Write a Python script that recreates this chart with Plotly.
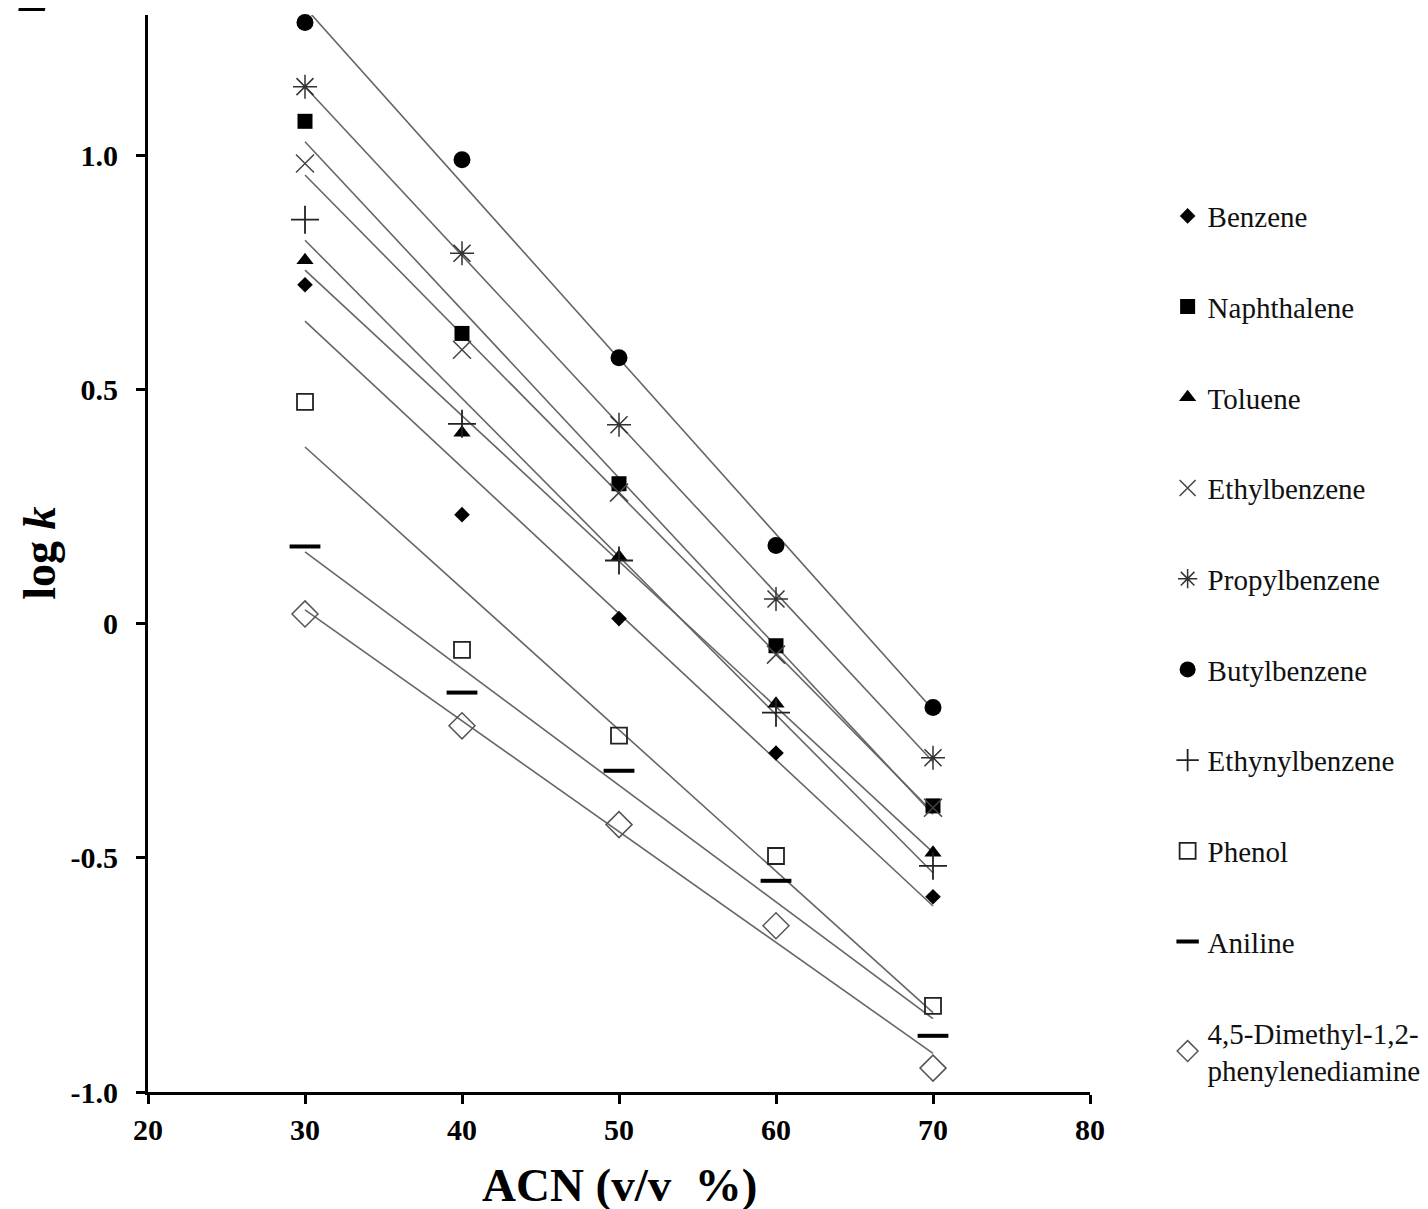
import numpy as np
import plotly.graph_objects as go

acn = [30, 40, 50, 60, 70]

names = ["Benzene", "Naphthalene", "Toluene", "Ethylbenzene", "Propylbenzene",
         "Butylbenzene", "Ethynylbenzene", "Phenol", "Aniline",
         "4,5-Dimethyl-1,2-<br>phenylenediamine"]

benzene = [0.724, 0.233, 0.011, -0.276, -0.583]
naphthalene = [1.073, 0.620, 0.299, -0.047, -0.389]
toluene = [0.776, 0.408, 0.143, -0.171, -0.489]
ethylbenzene = [0.983, 0.585, 0.280, -0.066, -0.393]
propylbenzene = [1.147, 0.791, 0.425, 0.053, -0.286]
butylbenzene = [1.284, 0.991, 0.568, 0.167, -0.179]
ethynylbenzene = [0.863, 0.427, 0.135, -0.190, -0.517]
phenol = [0.474, -0.056, -0.239, -0.496, -0.816]
aniline = [0.165, -0.147, -0.314, -0.549, -0.880]
dimethylpd = [0.021, -0.218, -0.429, -0.645, -0.949]

series = [benzene, naphthalene, toluene, ethylbenzene, propylbenzene,
          butylbenzene, ethynylbenzene, phenol, aniline, dimethylpd]

x_ticks = [20, 30, 40, 50, 60, 70, 80]
y_ticks = [-1.0, -0.5, 0, 0.5, 1.0]
y_ticktext = ["-1.0", "-0.5", "0", "0.5", "1.0"]

x_title = "<b>ACN (v/v  %)</b>"
y_title = "<b>log <i>k</i></b>"
panel_label = "<b><i>2</i></b>"

styles = [
    dict(symbol="diamond", size=12, color="black", line=dict(width=0)),
    dict(symbol="square", size=15, color="black", line=dict(width=0)),
    dict(symbol="triangle-up", size=15, color="black", line=dict(width=0)),
    dict(symbol="x-thin-open", size=18, color="#444", line=dict(width=1.5, color="#444")),
    dict(symbol="asterisk-open", size=20, color="#333", line=dict(width=1.5, color="#333")),
    dict(symbol="circle", size=17, color="black", line=dict(width=0)),
    dict(symbol="cross-thin-open", size=20, color="#222", line=dict(width=1.8, color="#222")),
    dict(symbol="square-open", size=16, color="#222", line=dict(width=1.8, color="#222")),
    dict(symbol="line-ew-open", size=22, color="black", line=dict(width=4, color="black")),
    dict(symbol="diamond-open", size=20, color="#555", line=dict(width=1.5, color="#555")),
]

fig = go.Figure()
xa = np.array(acn, dtype=float)
for i, (name, ys, st) in enumerate(zip(names, series, styles)):
    slope, intercept = np.polyfit(xa, np.array(ys), 1)
    xl = np.array([xa.min(), xa.max()])
    fig.add_trace(go.Scatter(x=xl, y=slope * xl + intercept, mode="lines",
                             line=dict(color="#666", width=1.6),
                             showlegend=False, hoverinfo="skip", cliponaxis=True))
for i, (name, ys, st) in enumerate(zip(names, series, styles)):
    fig.add_trace(go.Scatter(x=acn, y=ys, mode="markers", name=name,
                             legendgroup=f"g{i}", marker=st, cliponaxis=False))

serif = "Liberation Serif, Times New Roman, serif"
fig.update_layout(
    width=1412, height=1201,
    paper_bgcolor="white", plot_bgcolor="white",
    margin=dict(l=140, r=330, t=7, b=117, autoexpand=False),
    showlegend=True,
    legend=dict(x=1.0824, y=0.837, xanchor="left", yanchor="top",
                font=dict(family=serif, size=29, color="#111"),
                traceorder="grouped", tracegroupgap=50,
                itemsizing="trace", itemwidth=30,
                bgcolor="rgba(0,0,0,0)"),
    xaxis=dict(range=[20, 80], tickvals=x_ticks, showline=True, linecolor="black",
               linewidth=3, ticks="outside", ticklen=9, tickwidth=2.5, tickcolor="black",
               showgrid=False, zeroline=False, automargin=False,
               tickfont=dict(family=serif, size=30, color="black", weight="bold")),
    yaxis=dict(range=[-1.0, 1.3], tickvals=y_ticks, ticktext=y_ticktext, showline=True,
               linecolor="black", linewidth=3, ticks="outside", ticklen=9, tickwidth=2.5,
               tickcolor="black", showgrid=False, zeroline=False, automargin=False,
               ticklabelstandoff=12,
               tickfont=dict(family=serif, size=30, color="black", weight="bold")),
    annotations=[
        dict(text=x_title, xref="paper", yref="paper", x=0.5, y=-0.0864,
             xanchor="center", yanchor="middle", showarrow=False,
             font=dict(family=serif, size=47, color="black")),
        dict(text=y_title, xref="paper", yref="paper", x=-0.1155, y=0.5,
             xanchor="center", yanchor="middle", textangle=-90, showarrow=False,
             font=dict(family=serif, size=46, color="black")),
        dict(text=panel_label, xref="paper", yref="paper",
             x=-0.12, y=0.9889, xanchor="center", yanchor="bottom",
             showarrow=False, font=dict(family=serif, size=64, color="black")),
    ],
)

fig.write_html("out.html")
